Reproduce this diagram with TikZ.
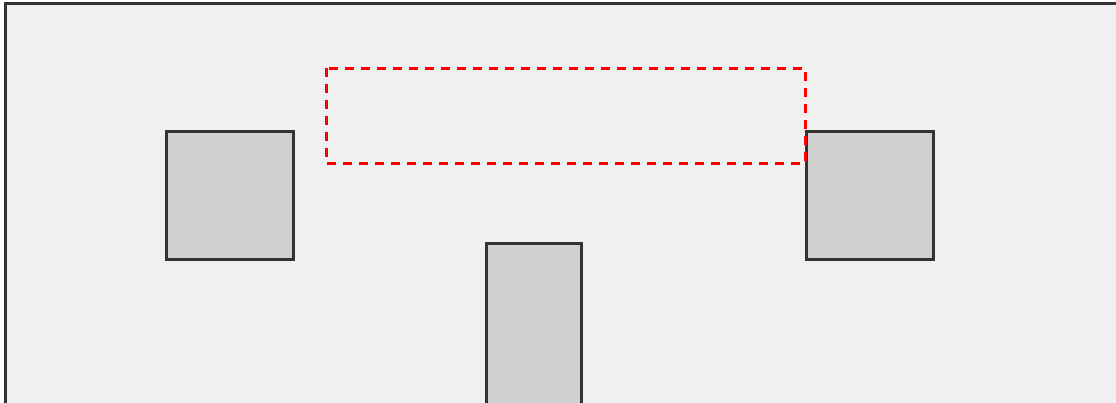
\documentclass[tikz,border=0pt]{standalone}
\definecolor{bgfill}{HTML}{F0F0F0}
\definecolor{boxfill}{HTML}{D0D0D0}
\definecolor{edge}{HTML}{333333}
\begin{document}
\begin{tikzpicture}[x=1pt,y=-1pt,
  block/.style={draw=edge,fill=boxfill,line width=3pt},
  region/.style={draw=red,line width=3pt,dash pattern=on 9pt off 7pt}]
\useasboundingbox (0,0) rectangle (1116,402);
\clip (0,0) rectangle (1116,402);
\fill[white] (0,0) rectangle (1116,402);
\draw[edge,fill=bgfill,line width=3.2pt] (5.5,3.5) rectangle (1130,420);
\draw[block] (166,131) rectangle (293.5,259.5);
\draw[block] (806,131) rectangle (933.5,259.5);
\draw[block] (486,243.5) rectangle (581.5,420);
\draw[region] (326,68) rectangle (805,163);
\end{tikzpicture}
\end{document}
